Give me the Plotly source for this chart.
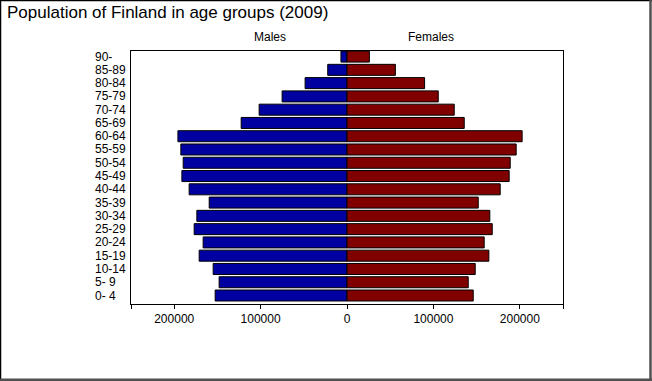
import plotly.graph_objects as go

age_groups = ["0- 4", "5- 9", "10-14", "15-19", "20-24", "25-29", "30-34", "35-39",
              "40-44", "45-49", "50-54", "55-59", "60-64", "65-69", "70-74", "75-79",
              "80-84", "85-89", "90-"]
males = [152600, 148000, 154900, 171100, 166500, 176900, 173800, 159500,
         182700, 191100, 189600, 192300, 195700, 122500, 101700, 75100,
         48500, 22300, 7000]
females = [146100, 140300, 148400, 164200, 158800, 168100, 165300, 151900,
           177300, 187700, 188900, 195800, 202700, 135700, 124100, 105600,
           89800, 56000, 25900]
x_tick_vals = [-250000, -200000, -100000, 0, 100000, 200000, 250000]
x_tick_text = ["", "200000", "100000", "0", "100000", "200000", ""]
title_text = "Population of Finland in age groups (2009)"
side_labels = ["Males", "Females"]

W, H = 652, 381
ML, MR, MT, MB = 131, 89, 51, 77
PW, PH = W - ML - MR, H - MT - MB

def px_x(p):
    return (p - ML) / PW

def px_y(p):
    return 1 - (p - MT) / PH

ypos = list(range(len(age_groups)))
font_family = "Arial, Liberation Sans, sans-serif"

fig = go.Figure()
fig.add_trace(go.Bar(
    y=ypos, x=[-v for v in males], orientation="h", name="Males",
    marker=dict(color="#0000A0", line=dict(color="black", width=1)),
    width=0.83, showlegend=False,
))
fig.add_trace(go.Bar(
    y=ypos, x=females, orientation="h", name="Females",
    marker=dict(color="#800000", line=dict(color="black", width=1)),
    width=0.83, showlegend=False,
))

annotations = []
for i, lab in enumerate(age_groups):
    annotations.append(dict(
        x=0, xref="paper", y=i, yref="y", text=lab, showarrow=False,
        xanchor="left", yanchor="middle", xshift=-38,
        font=dict(family=font_family, size=12, color="black"),
    ))
annotations.append(dict(x=px_x(270), xref="paper", y=px_y(36.5), yref="paper",
                        text=side_labels[0], showarrow=False, xanchor="center", yanchor="middle",
                        font=dict(family=font_family, size=12, color="black")))
annotations.append(dict(x=px_x(431), xref="paper", y=px_y(36.5), yref="paper",
                        text=side_labels[1], showarrow=False, xanchor="center", yanchor="middle",
                        font=dict(family=font_family, size=12, color="black")))

shapes = [
    dict(type="line", xref="paper", yref="paper", x0=px_x(0.5), x1=px_x(0.5), y0=px_y(0), y1=px_y(381),
         line=dict(color="black", width=1.5)),
    dict(type="line", xref="paper", yref="paper", x0=px_x(0), x1=px_x(652), y0=px_y(0.5), y1=px_y(0.5),
         line=dict(color="black", width=1.5)),
    dict(type="line", xref="paper", yref="paper", x0=px_x(650.5), x1=px_x(650.5), y0=px_y(0), y1=px_y(381),
         line=dict(color="#505050", width=2.5)),
    dict(type="line", xref="paper", yref="paper", x0=px_x(0), x1=px_x(652), y0=px_y(379.7), y1=px_y(379.7),
         line=dict(color="#505050", width=2.5)),
]

fig.update_layout(
    width=W, height=H,
    margin=dict(l=ML, r=MR, t=MT, b=MB),
    paper_bgcolor="white", plot_bgcolor="white",
    barmode="overlay",
    title=dict(text=title_text, x=7 / W, xref="container", xanchor="left",
               y=1 - 6 / H, yref="container", yanchor="top",
               font=dict(family=font_family, size=17, color="black")),
    xaxis=dict(range=[-250000, 250000], tickvals=x_tick_vals, ticktext=x_tick_text,
               showgrid=False, zeroline=False, showline=True, mirror=True,
               linecolor="black", linewidth=1, ticks="outside", ticklen=4,
               tickcolor="black", tickfont=dict(family=font_family, size=12, color="black")),
    yaxis=dict(range=[-0.64, 18.42], showticklabels=False, showgrid=False, zeroline=False,
               showline=True, mirror=True, linecolor="black", linewidth=1, ticks=""),
    annotations=annotations,
    shapes=shapes,
    font=dict(family=font_family),
)

fig.write_html("out.html", config={"displayModeBar": False},
               post_script="document.body.style.margin='0';document.body.style.overflow='hidden';")
